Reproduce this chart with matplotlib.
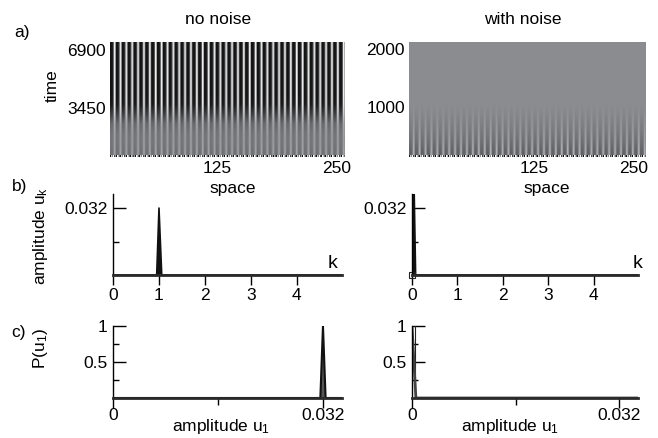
import numpy as np
import matplotlib
matplotlib.use("Agg")
import matplotlib.pyplot as plt
from matplotlib.colors import LinearSegmentedColormap

plt.rcParams['font.family'] = ['Liberation Sans', 'DejaVu Sans']
plt.rcParams['font.size'] = 12.5
plt.rcParams['mathtext.default'] = 'regular'

W, H = 658, 438

# ---- data: space-time pictures (a) ----
stripe_profile = [-1.0, -1.0, -0.95, -0.4, 0.9, 0.3]   # one period
n_stripes = 40
# stripe contrast per time row (top -> bottom)
amp_rows_clean = [1.0, 1.0, 1.0, 1.0, 1.0, 1.0, 0.95, 0.65, 0.3, 0.2, 0.18, 0.22]
amp_rows_noise = [0.0, 0.0, 0.0, 0.0, 0.0, 0.0, 0.0, 0.04, 0.1, 0.16, 0.24, 0.35]
edge_row = [-1.0, 0.6, 0.0, 1.0, -0.6, 0.2, -1.0, 1.0, 0.4, -0.3]   # noisy first time step
time_ticks_clean = [3450, 6900]
time_ticks_noise = [1000, 2000]
space_ticks = [125, 250]
time_range_clean = (480, 7400)
time_range_noise = (130, 2130)
space_range_clean = (12, 259)
space_range_noise = (-31, 265)

# ---- data: spectra (b) ----
k_clean = [0.0, 0.95, 1.0, 1.06, 5.0]
uk_clean = [0.0, 0.0, 0.032, 0.0, 0.0]
k_noise = [0.0, 0.04, 0.08, 5.0]
uk_noise = [0.0, 0.05, 0.0, 0.0]

# ---- data: distributions (c) ----
u1_clean = [0.0, 0.0316, 0.032, 0.0324, 0.035]
p_clean = [0.0, 0.0, 1.0, 0.0, 0.0]
u1_noise = [0.0, 0.0006, 0.035]
p_noise = [1.0, 0.0, 0.0]


def box(x0, y0, x1, y1):
    return [x0 / W, 1 - y1 / H, (x1 - x0) / W, (y1 - y0) / H]


def ftext(x, y, s, **kw):
    fig.text(x / W, 1 - y / H, s, ha='center', va='center', **kw)


cmap = LinearSegmentedColormap.from_list('g', ['#141414', '#8b8c90', '#ffffff'])
pattern = np.tile(stripe_profile, n_stripes)

fig = plt.figure(figsize=(W / 100, H / 100), dpi=100)

# ============================
# a) space-time plots
# ============================
for (x0, x1), amps, trange, srange, tt in [
        ((110, 345), amp_rows_clean, time_range_clean, space_range_clean, time_ticks_clean),
        ((409, 646), amp_rows_noise, time_range_noise, space_range_noise, time_ticks_noise)]:
    ax = fig.add_axes(box(x0, 42, x1, 157))
    img = np.array(amps)[:, None] * pattern[None, :]
    ax.imshow(img, cmap=cmap, vmin=-1, vmax=1, aspect='auto', interpolation='bilinear',
              extent=(srange[0], srange[1], trange[0], trange[1]))
    dt = (trange[1] - trange[0]) / 115 * 1.5
    ax.imshow(np.tile(edge_row, 24)[None, :], cmap=cmap, vmin=-1, vmax=1, aspect='auto',
              interpolation='nearest',
              extent=(srange[0], srange[1], trange[0], trange[0] + dt))
    ax.set_xlim(*srange)
    ax.set_ylim(*trange)
    ax.set_xticks(space_ticks)
    ax.set_yticks(tt)
    ax.tick_params(length=0, pad=3)
    for s in ax.spines.values():
        s.set_visible(False)

ftext(218, 19, 'no noise')
ftext(523, 19, 'with noise')
ftext(52, 86, 'time', rotation=90)
ftext(233, 188, 'space')
ftext(547, 188, 'space')


def style(ax, xlim, ylim):
    ax.set_xlim(*xlim)
    ax.set_ylim(*ylim)
    ax.spines['top'].set_visible(False)
    ax.spines['right'].set_visible(False)
    ax.spines['left'].set_linewidth(1.0)
    ax.spines['bottom'].set_linewidth(2.0)
    ax.spines['bottom'].set_color('#2a2a2a')
    ax.tick_params(axis='x', direction='out', length=7.5, width=1, pad=1.5)
    ax.tick_params(axis='y', which='major', direction='in', length=9, width=1, pad=4)
    ax.tick_params(axis='y', which='minor', direction='in', length=4, width=1)
    ax.patch.set_visible(False)


# ============================
# b) spectra
# ============================
for (x0, x1), k, uk in [((113, 342), k_clean, uk_clean), ((412, 638), k_noise, uk_noise)]:
    ax = fig.add_axes(box(x0, 194, x1, 275))
    style(ax, (0, 4.98), (0, 0.0387))
    ax.fill(k, uk, color='#111111', lw=0)
    ax.plot(k, uk, color='#111111', lw=1.2)
    ax.set_xticks([0, 1, 2, 3, 4])
    ax.set_yticks([0.032])
    ax.set_yticklabels(['0.032'])
    ax.set_yticks([0.016], minor=True)
    if k is k_noise:
        ax.plot([0], [0], marker='s', ms=4, mfc='none', mec='#222222', mew=0.8, clip_on=False)

ftext(333, 264, 'k', fontsize=14)
ftext(638, 264, 'k', fontsize=14)
ftext(40, 236, 'amplitude u$_k$', rotation=90)

# ============================
# c) distributions
# ============================
for (x0, x1), u1, p in [((113, 342), u1_clean, p_clean), ((412, 638), u1_noise, p_noise)]:
    ax = fig.add_axes(box(x0, 326, x1, 398))
    style(ax, (0, 0.0349), (0, 1.0))
    if u1 is u1_clean:
        ax.fill(u1, p, color='#555555', lw=0)
        ax.plot(u1, p, color='#111111', lw=1.5)
    else:
        ax.plot([0.0004, 0.0004], [0, 1], color='#222222', lw=0.8)
        ax.plot(u1, p, color='#444444', lw=2.0)
    ax.set_xticks([0, 0.032])
    ax.set_xticklabels(['0', '0.032'])
    ax.set_xticks([0.016], minor=True)
    ax.tick_params(axis='x', which='minor', direction='out', length=5, width=1)
    ax.tick_params(axis='x', which='major', pad=0)
    ax.set_yticks([0.5, 1.0])
    ax.set_yticklabels(['0.5', '1'])
    ax.set_yticks([0.25, 0.75], minor=True)

ftext(221, 427, 'amplitude u$_1$')
ftext(510, 427, 'amplitude u$_1$')
ftext(41, 348, 'P(u$_1$)', rotation=90)

# panel letters
ftext(22, 33, 'a)')
ftext(20, 187, 'b)')
ftext(19, 332, 'c)')

fig.savefig('out.png', dpi=100)
